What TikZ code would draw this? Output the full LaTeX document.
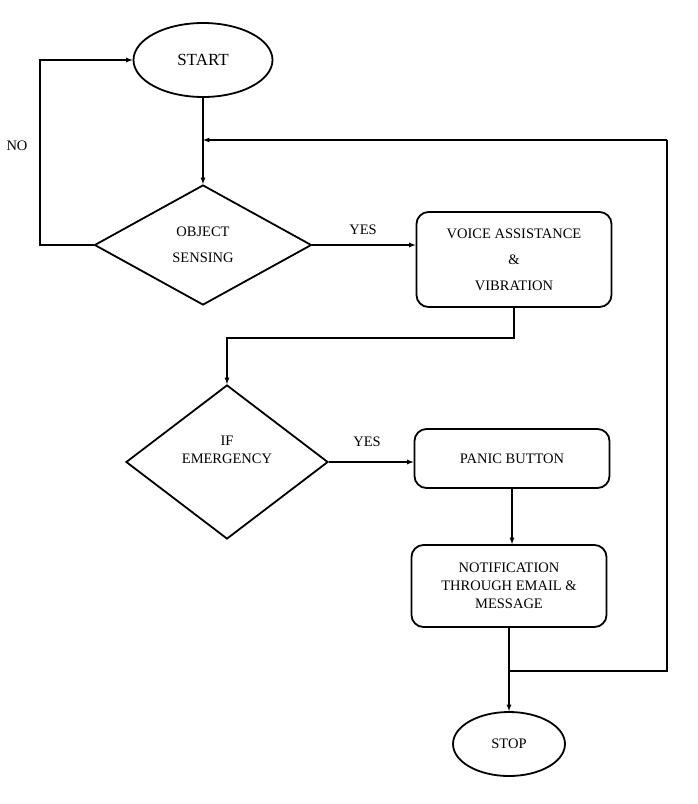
\documentclass[tikz,border=0pt]{standalone}
\usepackage{fontspec}
\setmainfont{Liberation Serif}
\tikzset{>=latex}
\usetikzlibrary{shapes.geometric}
\tikzset{
  term/.style={ellipse,draw,line width=1.8pt,inner sep=0pt},
  decide/.style={diamond,draw,line width=1.8pt,inner sep=0pt,align=center},
  proc/.style={rectangle,rounded corners=12pt,draw,line width=1.8pt,inner sep=0pt,align=center},
  flow/.style={->,line width=1.2pt},
  wide/.style={font=\fontsize{14.5}{26}\selectfont},
  tight/.style={font=\fontsize{14.5}{18}\selectfont}
}

\begin{document}
\begin{tikzpicture}[x=1pt,y=-1pt,tight]
  \useasboundingbox (0,0) rectangle (697,804);
  \node[term,minimum width=139pt,minimum height=74pt,font=\fontsize{17}{20}\selectfont] (start) at (203,60) {START};
  \node[decide,wide,minimum width=217pt,minimum height=120pt] (sense) at (203,245) {OBJECT\\SENSING};
  \node[proc,wide,minimum width=195pt,minimum height=95pt] (voice) at (514,259.5) {VOICE ASSISTANCE\\\&\\VIBRATION};
  \node[decide,minimum width=202pt,minimum height=154pt] (emerg) at (227,462) {IF\\EMERGENCY\\[6pt]};
  \node[proc,minimum width=195pt,minimum height=59pt] (panic) at (512,458.5) {PANIC BUTTON};
  \node[proc,minimum width=195pt,minimum height=82pt] (notif) at (509,586) {NOTIFICATION\\THROUGH EMAIL \&\\MESSAGE};
  \node[term,minimum width=112pt,minimum height=64pt] (stop) at (509,744) {STOP};
  \coordinate (looptop) at (667,140);
  \coordinate (join) at (509,671);
  \coordinate (noleft) at (40,245);
  % labels
  \node (no) at (17,146) {NO};
  \node (yes1) at (363,230) {YES};
  \node (yes2) at (367,442) {YES};
  % connectors
  \draw[flow] (start) -- (sense);
  \draw[flow] (looptop) -- (start.south |- looptop);
  \draw[flow] (sense.west) -- (noleft) |- (start.west);
  \draw[flow] (sense.east) -- (sense.east -| voice.west);
  \draw[flow] (voice.south) -- ++(0,30) -| (emerg.north);
  \draw[flow] (emerg.east) -- (emerg.east -| panic.west);
  \draw[flow] (panic.south) -- (panic.south |- notif.north);
  \draw[flow] (notif) -- (stop);
  \draw[line width=1.2pt] (join) -- (join -| looptop) -- (looptop);
\end{tikzpicture}
\end{document}
